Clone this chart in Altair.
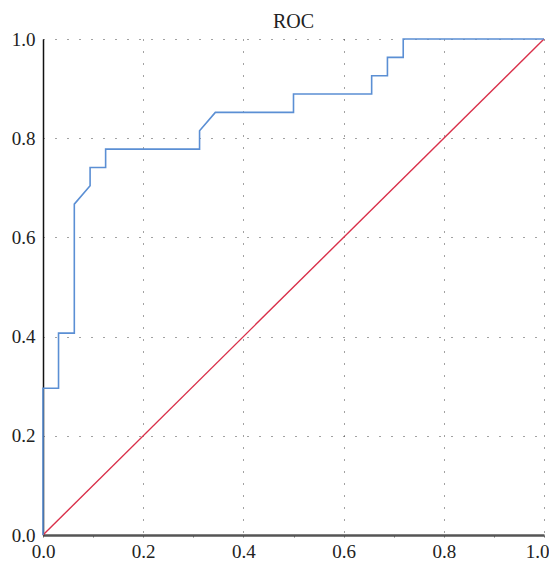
import altair as alt
import pandas as pd

# ROC curve points (false positive rate, true positive rate)
fpr = [0.0, 0.0, 0.031, 0.031, 0.0625, 0.0625, 0.094, 0.094, 0.125, 0.125,
       0.3125, 0.3125, 0.344, 0.5, 0.5, 0.656, 0.656, 0.6875, 0.6875, 0.719, 0.719, 1.0]
tpr = [0.0, 0.296, 0.296, 0.407, 0.407, 0.667, 0.704, 0.741, 0.741, 0.778,
       0.778, 0.815, 0.852, 0.852, 0.889, 0.889, 0.926, 0.926, 0.963, 0.963, 1.0, 1.0]
diag_x = [0.0, 1.0]
diag_y = [0.0, 1.0]
ticks = [0.0, 0.2, 0.4, 0.6, 0.8, 1.0]
minor_ticks = [i / 40 for i in range(41)]

roc = pd.DataFrame({"x": fpr, "y": tpr, "o": list(range(len(fpr)))})
diag = pd.DataFrame({"x": diag_x, "y": diag_y, "o": [0, 1]})

FONT = "Liberation Serif"
MAJOR = "abs(datum.value * 5 - round(datum.value * 5)) < 0.000001"

xscale = alt.Scale(domain=[0, 1], nice=False, zero=False)
yscale = alt.Scale(domain=[0, 1], nice=False, zero=False)

xaxis = alt.Axis(values=minor_ticks, format=".1f", title=None, grid=True,
                 gridDash=[1, 11], gridColor="#444", gridWidth=1,
                 gridOpacity={"condition": {"test": MAJOR, "value": 1}, "value": 0},
                 labelOpacity={"condition": {"test": MAJOR, "value": 1}, "value": 0},
                 labelOffset={"condition": {"test": "datum.value > 0.99", "value": -7}, "value": 0},
                 domainColor="#555", domainWidth=2.5,
                 ticks=True, tickSize=2, tickColor="#666", tickWidth=1,
                 labelFont=FONT, labelFontSize=19, labelColor="#222",
                 labelPadding=5, labelFlush=False, labelOverlap=False)
yaxis = alt.Axis(values=ticks, format=".1f", title=None, grid=True,
                 gridDash=[1, 11], gridColor="#444", gridWidth=1,
                 domainColor="#111", domainWidth=1.5, ticks=False,
                 labelFont=FONT, labelFontSize=19, labelColor="#222",
                 labelPadding=8, labelFlush=False)

curve = alt.Chart(roc).mark_line(color="#5b8fd4", strokeWidth=1.6).encode(
    x=alt.X("x:Q", scale=xscale, axis=xaxis),
    y=alt.Y("y:Q", scale=yscale, axis=yaxis),
    order="o:Q",
)

diagonal = alt.Chart(diag).mark_line(color="#d9304a", strokeWidth=1.4).encode(
    x=alt.X("x:Q", scale=xscale),
    y=alt.Y("y:Q", scale=yscale),
    order="o:Q",
)

chart = alt.layer(diagonal, curve).properties(
    width=501, height=496,
    title=alt.TitleParams("ROC", font=FONT, fontSize=20, fontWeight="normal",
                          color="#222", offset=-2),
    autosize=alt.AutoSizeParams(type="none"),
    padding={"left": 35, "top": 31, "right": 5, "bottom": 28},
).configure_view(stroke=None)

chart.save("out.html", embed_options={"renderer": "svg", "actions": False})
